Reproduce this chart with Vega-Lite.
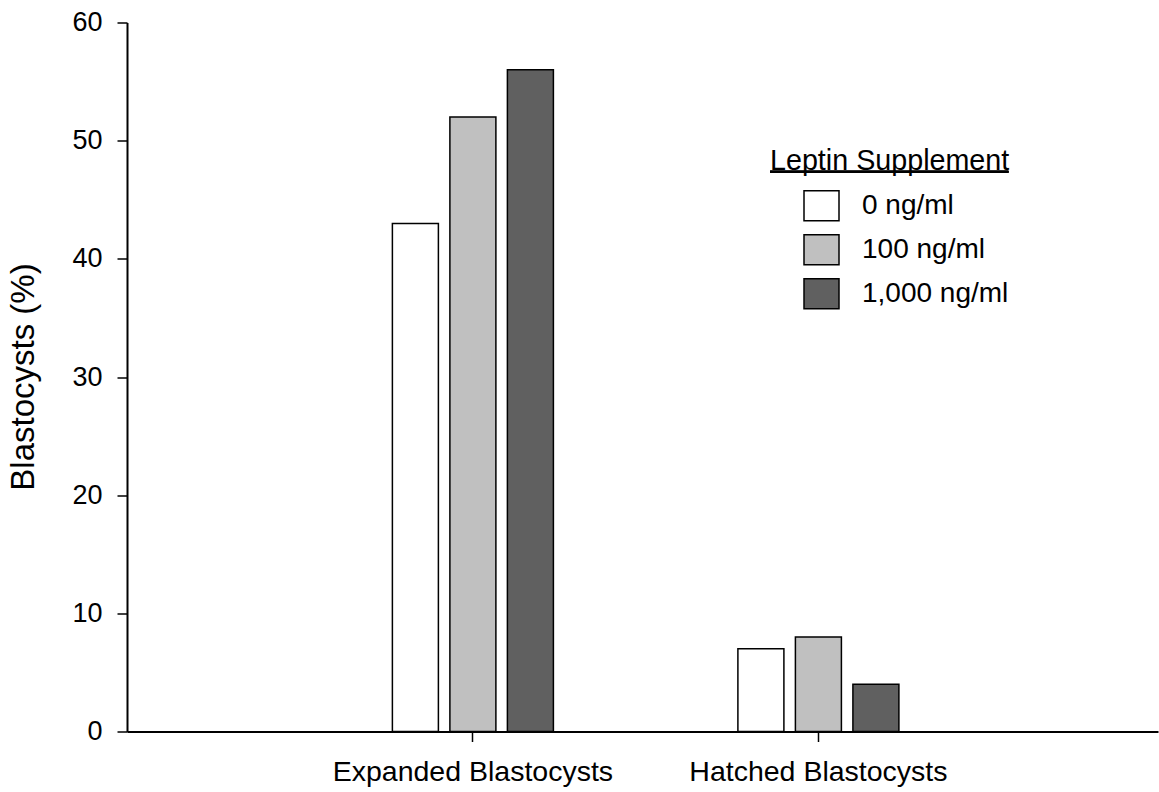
{
  "$schema": "https://vega.github.io/schema/vega-lite/v6.json",
  "autosize": {"type": "none"},
  "padding": {"left": 127, "top": 22.5, "right": 1, "bottom": 60},
  "width": 1031,
  "height": 709,
  "background": "white",
  "config": {
    "view": {"stroke": null},
    "font": "Liberation Sans"
  },
  "data": {
    "values": [
      {"category": "Expanded Blastocysts", "dose": "0 ng/ml", "value": 43},
      {"category": "Expanded Blastocysts", "dose": "100 ng/ml", "value": 52},
      {"category": "Expanded Blastocysts", "dose": "1,000 ng/ml", "value": 56},
      {"category": "Hatched Blastocysts", "dose": "0 ng/ml", "value": 7},
      {"category": "Hatched Blastocysts", "dose": "100 ng/ml", "value": 8},
      {"category": "Hatched Blastocysts", "dose": "1,000 ng/ml", "value": 4}
    ]
  },
  "layer": [
    {
      "mark": {"type": "bar", "stroke": "black", "strokeWidth": 1.5, "opacity": 1},
      "encoding": {
        "x": {
          "field": "category",
          "type": "nominal",
          "sort": ["Expanded Blastocysts", "Hatched Blastocysts"],
          "scale": {"paddingInner": 0.534, "paddingOuter": 0.759, "align": 0.506},
          "axis": {
            "title": null,
            "labelAngle": 0,
            "labelFontSize": 28.5,
            "labelLimit": 0,
            "labelColor": "black",
            "labelPadding": 16,
            "tickSize": 10,
            "tickColor": "black",
            "tickWidth": 1.5,
            "domainColor": "black",
            "domainWidth": 2
          }
        },
        "xOffset": {
          "field": "dose",
          "type": "nominal",
          "sort": ["0 ng/ml", "100 ng/ml", "1,000 ng/ml"],
          "scale": {"paddingInner": 0.2, "paddingOuter": 0}
        },
        "y": {
          "field": "value",
          "type": "quantitative",
          "scale": {"domain": [0, 60], "nice": false, "zero": true},
          "axis": {
            "title": "Blastocysts (%)",
            "titleFontSize": 33,
            "titleFontWeight": "normal",
            "titleColor": "black",
            "titleX": -104,
            "titleY": 354,
            "titleAngle": -90,
            "titleBaseline": "middle",
            "titleAlign": "center",
            "titleLimit": 0,
            "values": [0, 10, 20, 30, 40, 50, 60],
            "grid": false,
            "labelFontSize": 27,
            "labelColor": "black",
            "labelPadding": 15,
            "tickSize": 10,
            "tickColor": "black",
            "tickWidth": 1.5,
            "domainColor": "black",
            "domainWidth": 2
          }
        },
        "fill": {
          "field": "dose",
          "type": "nominal",
          "sort": ["0 ng/ml", "100 ng/ml", "1,000 ng/ml"],
          "scale": {
            "domain": ["0 ng/ml", "100 ng/ml", "1,000 ng/ml"],
            "range": ["#ffffff", "#c0c0c0", "#606060"]
          },
          "legend": {
            "title": "Leptin Supplement",
            "orient": "none",
            "legendX": 643,
            "legendY": 124,
            "padding": 0,
            "titleFontSize": 28.7,
            "titleFontWeight": "normal",
            "titleColor": "black",
            "titleLimit": 0,
            "titlePadding": 12,
            "titleBaseline": "top",
            "symbolType": "M-1,-0.857H1V0.857H-1Z",
            "symbolSize": 1225,
            "symbolStrokeColor": "black",
            "symbolStrokeWidth": 1.5,
            "symbolOffset": 33,
            "labelFontSize": 28,
            "labelLimit": 0,
            "labelColor": "black",
            "labelOffset": 22,
            "rowPadding": 7
          }
        }
      }
    },
    {
      "mark": {"type": "rule", "color": "black", "strokeWidth": 2},
      "encoding": {
        "x": {"datum": "Hatched Blastocysts", "type": "nominal", "bandPosition": 0.2},
        "x2": {"datum": "Hatched Blastocysts", "bandPosition": 1.68},
        "y": {"datum": 47.38, "type": "quantitative"}
      }
    }
  ]
}
